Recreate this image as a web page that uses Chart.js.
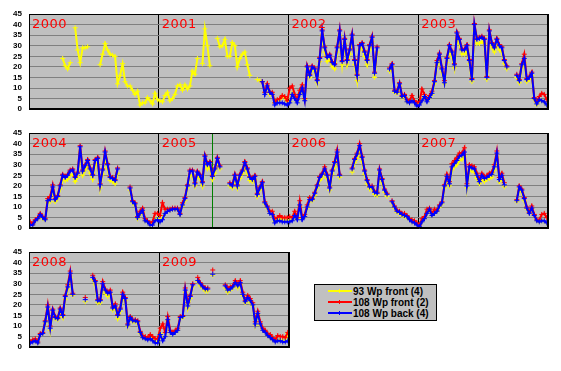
<!DOCTYPE html>
<html>
<head>
<meta charset="utf-8">
<script src="https://cdn.jsdelivr.net/npm/chart.js@4/dist/chart.umd.min.js"></script>
<style>
  body { margin: 0; background: #fff; width: 561px; height: 371px; position: relative; overflow: hidden; }
  canvas.row { position: absolute; left: 0; }
  #legend { position: absolute; left: 314px; top: 284px; width: 121px; height: 35px; border: 1px solid #000; background: #c0c0c0;
            font: bold 10px "Liberation Sans", Arial, sans-serif; color: #000; }
  #legend .item { position: absolute; left: 0; height: 11px; line-height: 11px; white-space: nowrap; }
  #legend .swatch { position: absolute; left: 13px; top: 4px; width: 24px; height: 2px; }
  #legend .swatch i { position: absolute; left: 11px; top: -1px; width: 1px; height: 4px; background: inherit; }
  #legend .text { position: absolute; left: 38px; top: 0; }
</style>
</head>
<body>
<canvas class="row" id="row1" width="561" height="121" style="top:0"></canvas>
<canvas class="row" id="row2" width="561" height="121" style="top:119px"></canvas>
<canvas class="row" id="row3" width="561" height="121" style="top:238px"></canvas>
<div id="legend"></div>
<script>
const _ = null;
const gap = n => Array(n).fill(null);

// weekly values, 52 per year
const years = [2000, 2001, 2002, 2003, 2004, 2005, 2006, 2007, 2008, 2009];
const seriesNames = ['93 Wp front (4)', '108 Wp front (2)', '108 Wp back (4)'];
const seriesColors = ['#ffff00', '#ff0000', '#0000ff'];
const yTicks = [0, 5, 10, 15, 20, 25, 30, 35, 40, 45];
const markerLine = 2005.41; // green line in 2005 panel

const yellow2000 = [_,_,_,_,_,_,_,_,_,_,_,_,_,24,20.5,19,22,_,38.5,28,22,29,29,29.5,_,_,_,_,21,26,31,28,26,25.5,25,12,16,21.5,13,11,11,9,7,8.5,2,3,3,5.5,4,2.5,7.5,4.5];
const yellow2001 = [4,3.5,6.5,8,4,5,7,11,11.5,9,11.5,9.5,11,18,16.5,24,_,21.5,38,30,20.5,_,_,33.5,29.5,30,33,25,25,31.5,30,20,24,26,27,21,16,_,_,14,13.5,13,8,10.5,7,7,3,4,4.5,6,5.5,3.5];
const red2001 = gap(41).concat([13,8,12,8,8,3,4.5,5,6.5,6,4]);
const blue2001 = gap(41).concat([13,7,11,8,7,2,3,3,3,2.5,2]);

const yellow2002 = [3.5,7.5,5.5,3.5,7.5,9.5,4.5,19,15,19,18,12.5,22.5,35,27,22.5,23.5,20,19,27,35,21,31,21,26,33,21,13.5,28,29,25,21,28,32,15,27,_,_,_,_,18,20,8,7.5,11,5.5,6,3.5,3,5,3.5,2];
const red2002 = [10,11,7,4.5,9,11.5,5,20.5,16.5,20.5,19.5,14,24.5,37.5,29.5,25,26,22.5,21.5,29.5,37.5,23,33.5,23.5,28.5,35.5,23.5,16.5,30.5,31.5,27.5,23.5,30.5,34.5,17.5,29.5,_,_,_,_,19.5,21.5,9,8.5,12.5,6.5,7,4.5,4,6.5,4,3];
const blue2002 = [3,7,5,3,7,10,4,20,16,20,19,13.5,24,37,29,24.5,25.5,22,21,29,37,22.5,33,23,28,35,23,16,30,31,27,23,30,34,17,29,_,_,_,_,19,21,8.5,8,12,6,6.5,3.5,3,4,3,1.5];

const yellow2003 = [2.5,4.5,6,4,5.5,7,12,20.5,24,17.5,12,22,28,25,19.5,33.5,31,26,26,28,21.5,13,37,31,31,32,31,14,34.5,29,27,31,28,27,21.5,19,_,_,_,15,12.5,19.5,22,13,14,16,4.5,2,4,4,3.5,2];
const red2003 = [3.5,9.5,7,4.5,6.5,8.5,13.5,23,26.5,19.5,13.5,24.5,30.5,27.5,21.5,36.5,33.5,28.5,28.5,30.5,23.5,14.5,40.5,33.5,34,34.5,33.5,15.5,37.5,31.5,29.5,33.5,30.5,29.5,23.5,20.5,_,_,_,16.5,14,21.5,26,14.5,15.5,17.5,5.5,3.5,6,7.5,7,4.5];
const blue2003 = [2,4,6,3.5,5.5,7.5,13,22,26,19,12.5,24,30,27,21,36,33,28,28,30,23,14,40,33,33.5,34,33,15,37,31,29,33,30,29,23,20,_,_,_,16,13.5,21,24,14,15,17,5,2.5,4.5,4,3.5,2];

const yellow2004 = [2,1.5,3.5,4.5,6,4.5,4,12,12.5,18,12.5,14,18.5,23,22.5,23,25,25.5,22,24,36,25,27.5,30,26,23,29.5,31,19,25.5,33.5,28,22.5,22,21,26,_,_,_,_,18,12,11,4.5,6.5,8,3.5,3,1.5,2,4,4.5];
const red2004 = [3,2,4,5,7,5.5,4.5,14,15,20.5,14,15.5,20.5,25.5,24.5,25.5,27.5,28,24.5,26.5,39,27.5,30,32.5,28.5,25.5,32.5,33.5,21,28,36.5,30.5,24.5,24,23,28.5,_,_,_,_,19.5,13,12,5.5,8,9.5,4.5,3.5,2.5,3,7,7];
const blue2004 = [1.5,1.5,3.5,4.5,6.5,5,4,13,13.5,19.5,13.5,15,20,25,24,25,27,27.5,24,26,38.5,27,29.5,32,28,25,32,33,20.5,27.5,36,30,24,23.5,22.5,28,_,_,_,_,19,12.5,11.5,5,7,8.5,3.5,3,1.5,1.5,3.5,4];

const yellow2005 = [3.5,5,7,8,8.5,9,9,9,6.5,10.5,13,19,25,25,20,25,23.5,20,32,28,29,23,26,31,28,_,_,_,20,19,23.5,19,23.5,25.5,29,26,22.5,22,23,15,18,20,11.5,9.5,7,6.5,3,4,4.5,4,4,4];
const red2005 = [6,12,9,9,9,9.5,9.5,9.5,7,12,14.5,20.5,27.5,27.5,21.5,27,25.5,22,34.5,30.5,31.5,25,28.5,33.5,29.5,_,_,_,21.5,20.5,25.5,20.5,25.5,27.5,31.5,28.5,24.5,23.5,25,16.5,19.5,22,12.5,10.5,8,8,4.5,5,6,5,5,5];
const blue2005 = [3,4,7,8,8.5,9,9,9,6.5,11,14,20,27,27,21,26.5,25,21.5,34,30,31,24.5,28,33,29,_,_,_,21,20,25,20,25,27,31,28,24,23,24.5,16,19,21.5,12,10,7,6.5,2.5,3.5,3.5,3,3,3];

const yellow2006 = [3.5,4,6.5,4.5,10.5,4.5,5.5,9.5,13,13,15.5,19,22.5,24,26.5,23.5,18,25.5,29,34,24,_,_,_,_,26.5,31,33,37,31.5,25.5,21,18.5,18.5,16,15.5,26,21.5,17,15,_,12,9.5,7.5,7,6,5.5,5,4,3,2.5,2];
const red2006 = [5.5,5,8,5,13,5,6.5,11,14.5,14,17,20.5,24.5,26,29,25.5,19.5,27.5,31.5,37,25.5,_,_,_,_,28.5,33,35.5,40,34,27.5,23,20,20,17.5,17,28,23.5,18.5,16.5,_,13,10.5,8.5,8,7,7,6,4.5,4,3.5,2.5];
const blue2006 = [3,3.5,6,4,11,4,5.5,10,13.5,13.5,16.5,20,24,25.5,28,25,19,27,31,36,25,_,_,_,_,28,32.5,35,39,33.5,27,22.5,19.5,19.5,17,16.5,27.5,23,18,16,_,12.5,10,8,7.5,6.5,6,5.5,4,3,2.5,1.5];

const yellow2007 = [1,3,4.5,7,8.5,6,7,8,10,11.5,19,23,20,27.5,29,30,32,32.5,34,19,27.5,27,26.5,23.5,21,23.5,22,23,23.5,24,27.5,33.5,22,23.5,19.5,_,_,_,_,12.5,18.5,17,13,9,7,9,6,3.5,3,3.5,3.5,2.5];
const red2007 = [1.5,4.5,5.5,9,9.5,7,9,8.5,11,12.5,20.5,25.5,22,30.5,32,33.5,35.5,35.5,38,21,30,29.5,29,26,23,26,24.5,25,26,26.5,30,36.5,24,26,21.5,_,_,_,_,13.5,20,18.5,14.5,10,7.5,10.5,6.5,4,4,6.5,7,5];
const blue2007 = [0.7,3,4.5,7,9,6,7,8,10.5,12,20,24.5,21,29,30.5,32,34,34.5,36,20,29,28.5,28,25,22,25,23.5,24,25,25.5,29,35.5,23,25,20.5,_,_,_,_,13,19.5,18,14,9.5,7,9.5,6,3.5,3,3.5,3.5,2.5];

const yellow2008 = [2.5,3,3,2,6,6.5,11.5,18,8,16.5,13.5,13,17,14,22.5,27.5,33,24.5,_,_,_,_,21.5,_,_,32,29.5,21,21,28.5,25.5,24,25,17.5,18.5,13.5,17,24,22,10,13.5,12,12,11.5,6.5,4.5,4,4,4.5,3.5,2.5,2.5];
const red2008 = [2.5,3.5,4,2.5,6.5,7,12.5,20,10,18,14.5,14,18.5,15.5,24.5,29.5,36,25.5,_,_,_,_,23.5,_,_,34,31.5,22.5,22.5,31,27.5,26,27,19,20.5,15.5,18.5,26,23.5,11,14.5,13,13,12.5,7.5,5.5,5,4.5,6,5,4,4];
const blue2008 = [2,2.5,3,2,6,6.5,12,19,9,17.5,14,13.5,18,15,24,28.5,35,25,_,_,_,_,22.5,_,_,33,31,22,22,30,27,25.5,26,18.5,19.5,15,18,25,23,10.5,14,12.5,12.5,12,7,4.5,4,3.5,4,3,2,2];

const yellow2009 = [6.5,4,5,12.5,7,6,7,8,13.5,14,26,18.5,23,28.5,_,31,29,28,26.5,26.5,_,34,_,_,_,_,28,26,27,28,30,28,29.5,24.5,21,23,21,19.5,10.5,15.5,10.5,8,7,5.5,4.5,3.5,3,3.5,3.5,3,3,6.5];
const red2009 = [9,11,7,14.5,8,7,8,9,14.5,15,28,21,24.5,30,_,33,30.5,29,28,28,_,36.5,_,_,_,_,29.5,28,28.5,29,31.5,30,31.5,26,22,24.5,23,21,12,17,12,9,8,6.5,6,4.5,3.5,5.5,5,5,4.5,7];
const blue2009 = [6,3,5,13,7,6,7,8,14,14.5,27,19.5,24,29.5,_,31.5,30,28.5,27.5,27.5,_,34.5,_,_,_,_,29,27,27.5,28.5,30.5,29,30.5,25,21.5,23.5,22,20,11,16,11,8,7,5.5,4.5,3.5,2.5,3,3,2.5,2.5,3];

const yellowByYear = {2000: yellow2000, 2001: yellow2001, 2002: yellow2002, 2003: yellow2003, 2004: yellow2004,
                      2005: yellow2005, 2006: yellow2006, 2007: yellow2007, 2008: yellow2008, 2009: yellow2009};
const redByYear = {2001: red2001, 2002: red2002, 2003: red2003, 2004: red2004,
                   2005: red2005, 2006: red2006, 2007: red2007, 2008: red2008, 2009: red2009};
const blueByYear = {2001: blue2001, 2002: blue2002, 2003: blue2003, 2004: blue2004,
                    2005: blue2005, 2006: blue2006, 2007: blue2007, 2008: blue2008, 2009: blue2009};
const allSeries = [yellowByYear, redByYear, blueByYear];

const panelPlugin = {
  id: 'panel',
  beforeDraw(chart) {
    const a = chart.chartArea, ctx = chart.ctx;
    ctx.save();
    ctx.fillStyle = '#c0c0c0';
    ctx.fillRect(a.left, a.top, a.right - a.left, a.bottom - a.top);
    ctx.restore();
  },
  beforeDatasetsDraw(chart, args, opts) {
    const a = chart.chartArea, ctx = chart.ctx, x = chart.scales.x;
    if (markerLine >= x.min && markerLine <= x.max) {
      const px = Math.round(x.getPixelForValue(markerLine)) + 0.5;
      ctx.save();
      ctx.strokeStyle = '#008000';
      ctx.lineWidth = 1;
      ctx.beginPath(); ctx.moveTo(px, a.top); ctx.lineTo(px, a.bottom); ctx.stroke();
      ctx.restore();
    }
  },
  afterDatasetsDraw(chart, args, opts) {
    const a = chart.chartArea, ctx = chart.ctx, x = chart.scales.x;
    ctx.save();
    ctx.fillStyle = '#ff0000';
    ctx.font = '13px "DejaVu Sans"';
    ctx.letterSpacing = '0.5px';
    ctx.textBaseline = 'top';
    opts.years.forEach(y => ctx.fillText(String(y), x.getPixelForValue(y) + 3, a.top + 4));
    ctx.restore();
    ctx.save();
    ctx.strokeStyle = '#000';
    ctx.lineWidth = 1;
    ctx.strokeRect(Math.round(a.left) + 0.5, Math.round(a.top) + 0.5, Math.round(a.right - a.left) - 1, Math.round(a.bottom - a.top) - 1);
    ctx.restore();
  }
};

function makeRow(id, rowYears, rightPad) {
  const first = rowYears[0], last = rowYears[rowYears.length - 1] + 1;
  const datasets = allSeries.map((byYear, s) => ({
    label: seriesNames[s],
    data: rowYears.flatMap(y => (byYear[y] || gap(52)).map((v, i) => ({ x: y + (i + 0.5) / 52, y: v }))),
    borderColor: seriesColors[s],
    backgroundColor: seriesColors[s],
    borderWidth: 2,
    pointStyle: 'cross',
    pointRadius: 2.5,
    pointBorderWidth: 1,
    tension: 0,
    spanGaps: false,
    order: 3 - s
  }));
  return new Chart(document.getElementById(id), {
    type: 'line',
    data: { datasets },
    plugins: [panelPlugin],
    options: {
      responsive: false,
      animation: false,
      layout: { padding: { top: 14, right: rightPad, bottom: 5, left: 0 } },
      plugins: { legend: { display: false }, tooltip: { enabled: false }, panel: { years: rowYears } },
      scales: {
        x: {
          type: 'linear', min: first, max: last,
          ticks: { display: false, stepSize: 1 },
          grid: { color: '#000', lineWidth: 1, drawTicks: false },
          border: { display: true, color: '#000' },
          afterFit: s => { s.height = 0; }
        },
        y: {
          min: 0, max: 45,
          afterBuildTicks: s => { s.ticks = yTicks.map(v => ({ value: v })); },
          ticks: { color: '#000', padding: 7, autoSkip: false, font: { family: 'Liberation Sans', size: 8, weight: 'bold' } },
          grid: { color: '#808080', lineWidth: 1, drawTicks: false },
          border: { color: '#000' },
          afterFit: s => { s.width = 29; }
        }
      }
    }
  });
}

makeRow('row1', years.slice(0, 4), 13);
makeRow('row2', years.slice(4, 8), 13);
makeRow('row3', years.slice(8, 10), 272);

const legend = document.getElementById('legend');
seriesNames.forEach((name, s) => {
  const item = document.createElement('div');
  item.className = 'item';
  item.style.top = (1 + s * 11) + 'px';
  item.innerHTML = '<span class="swatch" style="background:' + seriesColors[s] + '"><i></i></span><span class="text"></span>';
  item.querySelector('.text').textContent = name;
  legend.appendChild(item);
});
</script>
</body>
</html>
